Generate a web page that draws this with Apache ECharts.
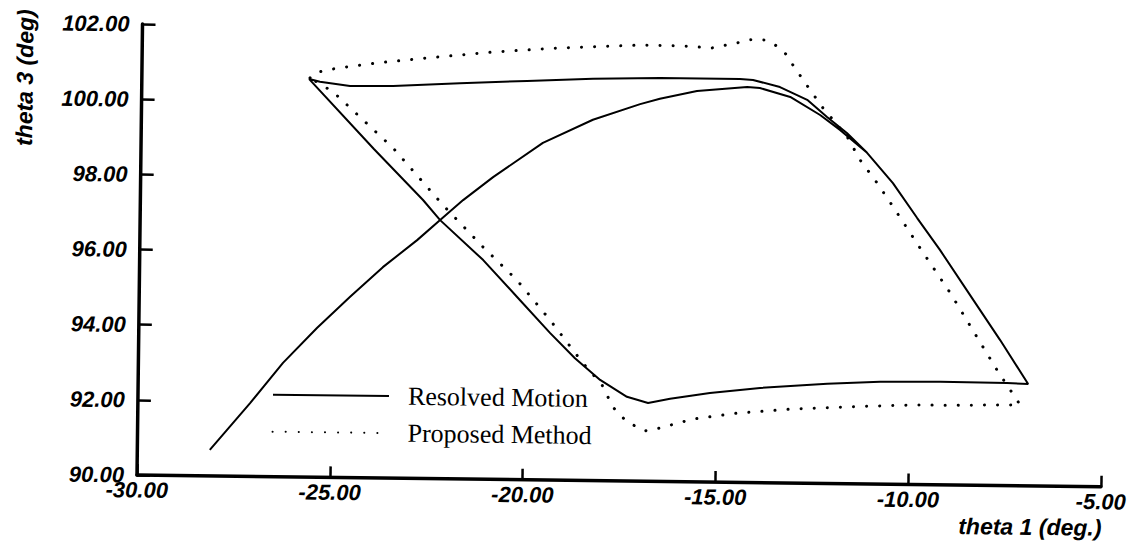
<!DOCTYPE html>
<html>
<head>
<meta charset="utf-8">
<script src="https://cdn.jsdelivr.net/npm/echarts@6/dist/echarts.min.js"></script>
<style>
html,body{margin:0;padding:0;background:#fff;overflow:hidden;}
#chart{width:1143px;height:550px;transform:rotate(0.7deg);transform-origin:137px 475px;}
</style>
</head>
<body>
<div id="chart"></div>
<script>
// ---- tick values ----
const xTicks = [-30, -25, -20, -15, -10, -5];
const yTicks = [90, 92, 94, 96, 98, 100, 102];

// ---- series names ----
const seriesNames = ['Resolved Motion', 'Proposed Method'];

// ---- Resolved Motion (solid) : theta 1 / theta 3 in trajectory order ----
const resolvedTheta1 = [
  -28.12, -27.09, -26.25, -25.38, -24.53, -23.69, -22.81, -22.22, -21.63, -20.86,
  -19.58, -18.29, -17.07, -16.56, -15.60, -14.30, -13.97, -13.18, -12.40, -11.88,
  -11.17, -10.49, -9.85, -9.25, -8.37, -7.66, -6.92,
  -7.47, -9.20, -10.76, -12.13, -13.87, -15.17, -16.20, -16.77, -17.32, -18.02,
  -18.68, -19.33, -20.20, -21.09, -22.22, -22.67, -23.96, -25.66,
  -25.38, -24.60, -23.48, -21.75, -20.01, -18.30, -16.56, -14.49, -14.15, -13.45,
  -12.74, -12.22, -11.70, -11.17, -10.49, -9.85, -9.25, -8.37, -7.66, -6.92
];
const resolvedTheta3 = [
  90.69, 91.95, 93.03, 93.97, 94.81, 95.61, 96.34, 96.88, 97.42, 98.04,
  98.97, 99.60, 100.03, 100.18, 100.40, 100.52, 100.50, 100.27, 99.80, 99.41,
  98.81, 98.01, 97.09, 96.25, 94.93, 93.87, 92.71,
  92.73, 92.74, 92.72, 92.65, 92.52, 92.37, 92.20, 92.08, 92.24, 92.68,
  93.25, 93.91, 94.86, 95.83, 96.88, 97.41, 98.75, 100.59,
  100.52, 100.42, 100.43, 100.53, 100.61, 100.69, 100.73, 100.73, 100.71, 100.53,
  100.20, 99.75, 99.33, 98.81, 98.01, 97.09, 96.25, 94.93, 93.87, 92.71
];

// ---- Proposed Method (dotted) ----
const proposedTheta1 = [
  -25.64, -25.51, -24.94, -23.91, -22.61, -20.90, -19.16, -17.09, -15.97, -15.22,
  -14.58, -14.24, -13.85, -13.54, -13.33, -13.12, -12.72, -12.33, -11.69, -11.35,
  -10.90, -10.51, -9.77, -8.97, -8.26, -7.70, -7.33, -7.12,
  -8.34, -10.05, -11.01, -13.01, -14.46, -15.60, -16.45, -16.84, -17.31, -17.68,
  -17.97, -18.47, -19.34, -20.21, -21.10, -22.15, -23.46, -25.04, -25.64
];
const proposedTheta3 = [
  100.62, 100.76, 100.89, 101.04, 101.19, 101.37, 101.50, 101.60, 101.59, 101.55,
  101.69, 101.78, 101.78, 101.62, 101.44, 101.12, 100.54, 99.99, 99.23, 98.62,
  98.01, 97.43, 96.30, 95.11, 93.94, 93.02, 92.47, 92.15,
  92.13, 92.11, 92.07, 91.97, 91.84, 91.67, 91.42, 91.34, 91.57, 91.96,
  92.55, 93.12, 94.26, 95.31, 96.18, 97.28, 98.78, 100.26, 100.62
];

const zip = (a, b) => a.map((v, i) => [v, b[i]]);

const tickFont = {
  fontFamily: 'Liberation Sans', fontWeight: 'bold', fontStyle: 'italic',
  fontSize: 22, color: '#000'
};
const nameFont = 'italic bold 23px "Liberation Sans"';

const chart = echarts.init(document.getElementById('chart'), null, {renderer: 'svg'});
chart.setOption({
  animation: false,
  backgroundColor: '#fff',
  grid: {left: 137, right: 42, top: 24, bottom: 75, containLabel: false, outerBoundsMode: 'none'},
  xAxis: {
    type: 'value',
    min: xTicks[0], max: xTicks[xTicks.length - 1],
    interval: xTicks[1] - xTicks[0],
    axisLine: {show: true, onZero: false, lineStyle: {color: '#000', width: 3.5}},
    axisTick: {show: true, inside: true, length: 11, lineStyle: {color: '#000', width: 2.5}},
    splitLine: {show: false},
    axisLabel: Object.assign({margin: 4, showMinLabel: true, showMaxLabel: true,
      formatter: v => v.toFixed(2)}, tickFont)
  },
  yAxis: {
    type: 'value',
    min: yTicks[0], max: yTicks[yTicks.length - 1],
    interval: yTicks[1] - yTicks[0],
    axisLine: {show: true, onZero: false, lineStyle: {color: '#000', width: 3.5}},
    axisTick: {show: true, inside: true, length: 13, lineStyle: {color: '#000', width: 2.5}},
    splitLine: {show: false},
    axisLabel: Object.assign({margin: 13, showMinLabel: true, showMaxLabel: true,
      formatter: v => v.toFixed(2)}, tickFont)
  },
  legend: {
    orient: 'vertical', left: 271, top: 378, padding: 0,
    itemGap: 7, itemWidth: 116, itemHeight: 14,
    itemStyle: {color: 'rgba(0,0,0,0)', borderWidth: 0, opacity: 0},
    textStyle: {fontFamily: 'Liberation Serif', fontSize: 26, color: '#000',
      lineHeight: 30, padding: [0, 0, 0, 14]},
    data: seriesNames
  },
  graphic: [
    {type: 'text', x: 20, y: 79, rotation: Math.PI / 2,
      style: {text: 'theta 3 (deg)', font: nameFont, fill: '#000',
        align: 'center', verticalAlign: 'middle', textAlign: 'center', textVerticalAlign: 'middle'}},
    {type: 'text', x: 1102, y: 516,
      style: {text: 'theta 1 (deg.)', font: nameFont, fill: '#000',
        align: 'right', verticalAlign: 'middle', textAlign: 'right', textVerticalAlign: 'middle'}}
  ],
  series: [
    {
      name: seriesNames[0], type: 'line', symbol: 'none', showSymbol: false,
      data: zip(resolvedTheta1, resolvedTheta3),
      lineStyle: {color: '#000', width: 2},
      itemStyle: {color: '#000'}
    },
    {
      name: seriesNames[1], type: 'line', symbol: 'none', showSymbol: false,
      data: zip(proposedTheta1, proposedTheta3),
      lineStyle: {color: '#000', width: 3, type: [0.1, 13], cap: 'round'},
      itemStyle: {color: '#000'}
    }
  ]
});
</script>
</body>
</html>
